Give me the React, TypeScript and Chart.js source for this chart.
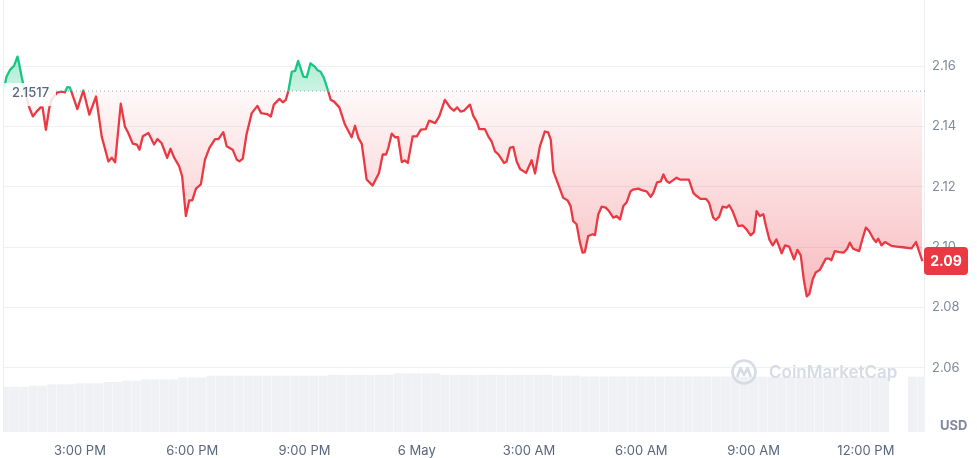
import React, { useEffect, useRef } from 'react';
import { Chart, registerables } from 'chart.js';

Chart.register(...registerables);

// ---------- data (hours since 00:00 on 5 May, price in USD) ----------
const BASELINE = 2.1517;

const times = [
  12.97, 13.04, 13.13, 13.24, 13.33, 13.37, 13.44, 13.53, 13.65, 13.74, 13.84, 13.95, 14.0, 14.09, 14.18, 14.24,
  14.39, 14.51, 14.6, 14.66, 14.73, 14.78, 14.93, 15.09, 15.25, 15.43, 15.58, 15.76, 15.85, 15.94, 16.09, 16.2,
  16.29, 16.41, 16.52, 16.59, 16.68, 16.83,
  16.98, 17.07, 17.18, 17.33, 17.42, 17.51, 17.65, 17.73, 17.83, 17.92, 18.0, 18.1, 18.23, 18.34, 18.46, 18.61,
  18.7, 18.83, 18.92, 19.08, 19.19, 19.26, 19.35, 19.45, 19.59, 19.74, 19.84, 20.0, 20.1, 20.18, 20.33, 20.42,
  20.5, 20.57, 20.66, 20.75, 20.83, 20.97, 21.06,
  21.16, 21.28, 21.34, 21.43, 21.52, 21.63, 21.7, 21.79, 21.93, 22.08, 22.26, 22.35, 22.44, 22.53, 22.66, 22.82,
  22.99, 23.09, 23.18, 23.24, 23.33, 23.42, 23.5, 23.6, 23.68, 23.76, 23.89, 24.0, 24.11, 24.24, 24.33, 24.49,
  24.6, 24.75, 24.9, 24.99, 25.08, 25.17, 25.26, 25.42,
  25.51, 25.6, 25.67, 25.82, 25.91, 26.0, 26.09, 26.18, 26.33, 26.4, 26.49, 26.58, 26.67, 26.76, 26.92, 27.07,
  27.16, 27.29, 27.42, 27.51, 27.58, 27.65, 27.75, 27.91, 28.03, 28.11, 28.18, 28.27, 28.36, 28.43, 28.49, 28.58,
  28.7, 28.76, 28.85, 28.94, 29.05, 29.14, 29.25, 29.34, 29.43, 29.52, 29.61, 29.71,
  29.78, 29.92, 30.01, 30.14, 30.25, 30.32, 30.42, 30.52, 30.59, 30.68, 30.75, 30.85, 30.94, 31.03, 31.27, 31.39,
  31.46, 31.58, 31.73, 31.81, 31.92, 31.99, 32.08, 32.17, 32.28, 32.35, 32.44, 32.59, 32.71, 32.81, 32.92, 33.01,
  33.08, 33.17, 33.26, 33.33, 33.42, 33.51, 33.61, 33.75, 33.84, 33.95,
  34.08, 34.17, 34.26, 34.34, 34.42, 34.49, 34.58, 34.66, 34.77, 34.93, 35.02, 35.08, 35.17, 35.29, 35.41, 35.5,
  35.57, 35.66, 35.82, 35.91, 36.0, 36.09, 36.2, 36.27, 36.33, 36.42, 36.51, 36.69, 36.82, 37.04, 37.22, 37.34,
  37.42, 37.51,
];

const prices = [
  2.1527, 2.1565, 2.1587, 2.1601, 2.1631, 2.161, 2.1565, 2.1514, 2.1461, 2.1433, 2.1449, 2.1463, 2.1463, 2.1389, 2.1461, 2.1488,
  2.1512, 2.1515, 2.1513, 2.153, 2.1529, 2.1512, 2.1457, 2.1519, 2.1439, 2.1499, 2.1367, 2.1284, 2.1296, 2.1281, 2.1475, 2.14,
  2.1378, 2.1343, 2.134, 2.1323, 2.1367, 2.1378,
  2.134, 2.1358, 2.1345, 2.1296, 2.1326, 2.1298, 2.1268, 2.1235, 2.1103, 2.1155, 2.1155, 2.1194, 2.1208, 2.129, 2.1329, 2.1358,
  2.1358, 2.1381, 2.1334, 2.1323, 2.129, 2.1284, 2.1293, 2.1373, 2.1444, 2.1468, 2.1444, 2.1441, 2.1433, 2.1472, 2.1491, 2.148,
  2.1488, 2.1518, 2.1581, 2.1584, 2.1617, 2.1565, 2.1563,
  2.1609, 2.1597, 2.1587, 2.1581, 2.156, 2.1518, 2.1488, 2.1482, 2.1463, 2.1406, 2.1364, 2.1402, 2.1362, 2.1342, 2.1224, 2.1204,
  2.1246, 2.1307, 2.1307, 2.1329, 2.1376, 2.1364, 2.1364, 2.1282, 2.1287, 2.1279, 2.1367, 2.1367, 2.1389, 2.1391, 2.1419, 2.1411,
  2.1433, 2.1488, 2.1461, 2.1452, 2.1463, 2.1449, 2.1452, 2.1472,
  2.1435, 2.1416, 2.1391, 2.1391, 2.1367, 2.135, 2.1317, 2.1307, 2.1279, 2.1284, 2.1329, 2.1332, 2.1284, 2.1259, 2.1246, 2.1288,
  2.1244, 2.1334, 2.1383, 2.138, 2.1356, 2.1251, 2.1218, 2.1164, 2.1155, 2.1136, 2.1086, 2.1076, 2.1015, 2.0982, 2.0984, 2.1037,
  2.1043, 2.104, 2.1109, 2.1134, 2.1131, 2.1119, 2.1098, 2.1103, 2.1092, 2.1136, 2.1149, 2.1185,
  2.1191, 2.1194, 2.1189, 2.1185, 2.1167, 2.118, 2.1215, 2.1218, 2.1241, 2.1218, 2.1213, 2.1222, 2.123, 2.1224, 2.1224, 2.118,
  2.1171, 2.116, 2.116, 2.1147, 2.1098, 2.109, 2.1101, 2.1134, 2.1131, 2.1139, 2.1119, 2.107, 2.1072, 2.1059, 2.1039, 2.105,
  2.1119, 2.1103, 2.1109, 2.107, 2.1026, 2.1006, 2.1026, 2.098, 2.1006, 2.1002,
  2.096, 2.0991, 2.0973, 2.0894, 2.0837, 2.0845, 2.0894, 2.0916, 2.0925, 2.0962, 2.0962, 2.0957, 2.0987, 2.0984, 2.0982, 2.0995,
  2.1015, 2.0995, 2.0987, 2.1028, 2.1065, 2.1053, 2.1028, 2.1017, 2.1028, 2.1006, 2.1017, 2.1004, 2.1002, 2.0999, 2.0996, 2.1017,
  2.0987, 2.0954,
];

// volume bars, one per 15 minutes starting at 13:00 (arbitrary units)
const volumeStart = 13.0;
const volumeStep = 0.25;
const volumes = [
  10.6, 10.6, 10.6, 10.84, 10.84, 11.17, 11.17, 11.17, 11.4, 11.4, 11.4, 11.7, 11.7, 12.0, 12.0,
  12.34, 12.34, 12.34, 12.34, 12.8, 12.8, 12.8,
  13.2, 13.2, 13.2, 13.2, 13.2, 13.2, 13.2, 13.2, 13.2, 13.2, 13.2, 13.2, 13.2,
  13.4, 13.4, 13.4, 13.4, 13.4, 13.4, 13.4,
  13.75, 13.75, 13.75, 13.75, 13.75,
  13.4, 13.4, 13.4, 13.4, 13.4, 13.4, 13.4, 13.4, 13.4, 13.4, 13.4, 13.4,
  13.2, 13.2, 13.2,
  13.0, 13.0, 13.0, 13.0, 13.0, 13.0, 13.0, 13.0, 13.0, 13.0, 13.0, 13.0, 13.0, 13.0, 13.0, 13.0, 13.0,
  12.95, 12.95, 12.95, 12.95, 12.95, 12.95, 12.95, 12.95, 12.95, 12.95, 12.95, 12.95, 12.95, 12.95, 12.95, 12.95,
  0, 0, 12.95, 12.95,
];

const xTickHours = [15, 18, 21, 24, 27, 30, 33, 36];
const xTickLabels = ['3:00 PM', '6:00 PM', '9:00 PM', '6 May', '3:00 AM', '6:00 AM', '9:00 AM', '12:00 PM'];
const yTickValues = [2.06, 2.08, 2.1, 2.12, 2.14, 2.16];

const X_MIN = 12.97;
const X_MAX = 37.58;
const Y_MIN = 2.0388;
const Y_MAX = 2.1802;

const RED = '#ea3943';
const GREEN = '#16c784';
const FONT = 'Inter, "Noto Sans", sans-serif';

export default function App() {
  const ref = useRef<HTMLCanvasElement>(null);

  useEffect(() => {
    const canvas = ref.current;
    if (!canvas) return;

    const overlay = {
      id: 'overlay',
      beforeDatasetsDraw(chart: any) {
        const { ctx, chartArea: a } = chart;
        ctx.save();
        ctx.strokeStyle = '#eceef2';
        ctx.lineWidth = 1;
        ctx.beginPath();
        ctx.moveTo(Math.round(a.left) - 0.5, 0);
        ctx.lineTo(Math.round(a.left) - 0.5, a.bottom);
        ctx.moveTo(Math.round(a.right) - 0.5, 0);
        ctx.lineTo(Math.round(a.right) - 0.5, a.bottom);
        ctx.stroke();
        ctx.restore();
      },
      afterDatasetsDraw(chart: any) {
        const { ctx, chartArea: a, scales } = chart;
        ctx.save();
        // watermark
        const cx = a.right - 181;
        const cy = a.bottom - 60;
        ctx.strokeStyle = '#d6dce6';
        ctx.lineWidth = 2.6;
        ctx.lineJoin = 'round';
        ctx.lineCap = 'round';
        ctx.beginPath();
        ctx.arc(cx, cy, 11.5, 0, Math.PI * 2);
        ctx.stroke();
        ctx.beginPath();
        ctx.moveTo(cx - 6.5, cy + 4);
        ctx.lineTo(cx - 3.5, cy - 4);
        ctx.lineTo(cx, cy + 3);
        ctx.lineTo(cx + 3.5, cy - 4);
        ctx.lineTo(cx + 6.5, cy + 4);
        ctx.stroke();
        ctx.fillStyle = '#d6dce6';
        ctx.font = `600 17px ${FONT}`;
        ctx.textAlign = 'left';
        ctx.textBaseline = 'middle';
        ctx.fillText('CoinMarketCap', cx + 25, cy + 1);

        // baseline label
        const yb = scales.y.getPixelForValue(BASELINE);
        ctx.fillStyle = 'rgba(255,255,255,0.85)';
        ctx.fillRect(a.left, yb - 8, 52, 23);
        ctx.fillStyle = '#58667e';
        ctx.font = `500 13px ${FONT}`;
        ctx.fillText(BASELINE.toFixed(4), a.left + 8, yb + 2.5);
        ctx.restore();
      },
      afterDraw(chart: any) {
        const { ctx, chartArea: a, scales } = chart;
        const last = prices[prices.length - 1];
        const yl = scales.y.getPixelForValue(last);
        ctx.save();
        ctx.fillStyle = RED;
        ctx.beginPath();
        (ctx as any).roundRect(a.right - 1, yl - 14, 44, 28, 4);
        ctx.fill();
        ctx.fillStyle = '#ffffff';
        ctx.font = `700 14px ${FONT}`;
        ctx.textAlign = 'center';
        ctx.textBaseline = 'middle';
        ctx.fillText((Math.floor(last * 100) / 100).toFixed(2), a.right + 21, yl + 1);
        ctx.fillStyle = '#808a9d';
        ctx.font = `700 13px ${FONT}`;
        ctx.textAlign = 'left';
        ctx.fillText('USD', a.right + 15, a.bottom - 6);
        ctx.restore();
      },
    };

    const chart = new Chart(canvas, {
      type: 'line',
      data: {
        datasets: [
          {
            type: 'line',
            data: [
              { x: X_MIN, y: BASELINE },
              { x: X_MAX, y: BASELINE },
            ],
            borderColor: '#9aa2b1',
            borderWidth: 1,
            borderDash: [1, 3],
            pointRadius: 0,
            fill: false,
            yAxisID: 'y',
            order: 0,
          },
          {
            type: 'line',
            data: times.map((t, i) => ({ x: t, y: prices[i] })),
            borderColor: RED,
            borderWidth: 2.3,
            pointRadius: 0,
            tension: 0,
            borderJoinStyle: 'round',
            fill: { target: { value: BASELINE }, above: 'rgba(22,199,132,0.3)', below: 'rgba(234,57,67,0.1)' },
            yAxisID: 'y',
            order: 1,
          },
          {
            type: 'bar',
            data: volumes.map((v, i) => ({ x: volumeStart + i * volumeStep, y: v })),
            backgroundColor: '#eff1f4',
            borderWidth: 0,
            barPercentage: 0.97,
            categoryPercentage: 1,
            yAxisID: 'yv',
            order: 2,
          },
        ] as any,
      },
      options: {
        animation: false,
        responsive: false,
        events: [],
        layout: { padding: { left: 4, top: 5, right: 0, bottom: 0 } },
        plugins: { legend: { display: false }, tooltip: { enabled: false } },
        scales: {
          x: {
            type: 'linear',
            min: X_MIN,
            max: X_MAX,
            offset: false,
            grid: { display: false, drawTicks: false },
            border: { display: false },
            afterBuildTicks: (scale: any) => {
              scale.ticks = xTickHours.map((v) => ({ value: v }));
            },
            afterFit: (scale: any) => {
              scale.height = 26;
              scale.paddingLeft = 0;
              scale.paddingRight = 0;
            },
            ticks: {
              autoSkip: false,
              maxRotation: 0,
              padding: 11,
              color: '#58667e',
              font: { family: FONT, size: 13 },
              callback: (value: any) => {
                const i = xTickHours.indexOf(Number(value));
                return i >= 0 ? xTickLabels[i] : '';
              },
            },
          },
          y: {
            type: 'linear',
            position: 'right',
            min: Y_MIN,
            max: Y_MAX,
            grid: { color: '#eef0f3', drawTicks: false },
            border: { display: false },
            afterBuildTicks: (scale: any) => {
              scale.ticks = yTickValues.map((v) => ({ value: v }));
            },
            afterFit: (scale: any) => {
              scale.width = 52;
              scale.paddingTop = 0;
              scale.paddingBottom = 0;
            },
            ticks: {
              padding: 7,
              color: '#808a9d',
              font: { family: FONT, size: 13 },
              callback: (value: any) => Number(value).toFixed(2),
            },
          },
          yv: {
            type: 'linear',
            display: false,
            min: 0,
            max: 100,
          },
        },
      } as any,
      plugins: [overlay],
    });

    // gradients that depend on the laid-out scales
    const a = chart.chartArea;
    const ys: any = chart.scales.y;
    const ctx = chart.ctx;
    const yb = ys.getPixelForValue(BASELINE);
    const t = Math.min(1, Math.max(0, (yb - a.top) / (a.bottom - a.top)));
    const border = ctx.createLinearGradient(0, a.top, 0, a.bottom);
    border.addColorStop(0, GREEN);
    border.addColorStop(t, GREEN);
    border.addColorStop(t, RED);
    border.addColorStop(1, RED);
    const yHigh = ys.getPixelForValue(Math.max(...prices));
    const yLow = ys.getPixelForValue(Math.min(...prices));
    const gAbove = ctx.createLinearGradient(0, yHigh, 0, yb);
    gAbove.addColorStop(0, 'rgba(22,199,132,0.36)');
    gAbove.addColorStop(1, 'rgba(22,199,132,0.22)');
    const gBelow = ctx.createLinearGradient(0, yb, 0, yLow);
    gBelow.addColorStop(0, 'rgba(234,57,67,0.03)');
    gBelow.addColorStop(1, 'rgba(234,57,67,0.34)');
    const ds: any = chart.data.datasets[1];
    ds.borderColor = border;
    ds.fill = { target: { value: BASELINE }, above: gAbove, below: gBelow };
    chart.update();

    return () => chart.destroy();
  }, []);

  return (
    <div style={{ position: 'fixed', left: 0, top: 0, width: 977, height: 458, background: '#fff' }}>
      <canvas ref={ref} width={977} height={458} style={{ display: 'block' }} />
    </div>
  );
}
